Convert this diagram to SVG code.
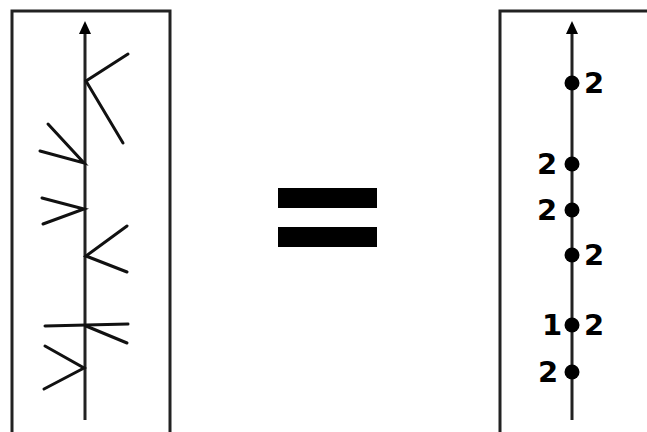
<svg xmlns="http://www.w3.org/2000/svg" width="647" height="432" viewBox="0 0 647 432">
<style>
.box{fill:none;stroke:#222;stroke-width:3}
.stem{stroke:#222;stroke-width:3;fill:none}
.br{stroke:#111;stroke-width:3;stroke-linecap:round;fill:none}
.lbl{font-family:"DejaVu Sans",Verdana,sans-serif;font-weight:bold;font-size:29px;fill:#000}
.dot{fill:#000}
</style>
<rect width="647" height="432" fill="#fff"/>
<g id="left-panel">
<rect class="box" x="12" y="11" width="158" height="440"/>
<line class="stem" x1="85" y1="420" x2="85" y2="33"/>
<path d="M79,34 L85,21 L91,34 Z" fill="#000"/>
<g id="left-branches">
<path class="br" d="M128,54 L86,81 L123,143"/>
<path class="br" d="M48,124 L84,163 L40,151"/>
<path class="br" d="M42,198 L84,209 L43,224"/>
<path class="br" d="M127,226 L86,256 L127,272"/>
<path class="br" d="M45,326 L128,324"/>
<path class="br" d="M86,326 L127,343"/>
<path class="br" d="M45,346 L84,368 L44,389"/>
</g>
</g>
<g id="equals">
<rect x="278" y="188" width="99" height="20" fill="#000"/>
<rect x="278" y="227" width="99" height="20" fill="#000"/>
</g>
<g id="right-panel">
<rect class="box" x="500" y="11" width="200" height="440"/>
<line class="stem" x1="572" y1="420" x2="572" y2="33"/>
<path d="M566,34 L572,21 L578,34 Z" fill="#000"/>
<circle class="dot" cx="572" cy="83" r="7.5"/>
<circle class="dot" cx="572" cy="164" r="7.5"/>
<circle class="dot" cx="572" cy="210" r="7.5"/>
<circle class="dot" cx="572" cy="255" r="7.5"/>
<circle class="dot" cx="572" cy="325" r="7.5"/>
<circle class="dot" cx="572" cy="372" r="7.5"/>
<text class="lbl" x="584" y="93">2</text>
<text class="lbl" x="537" y="174">2</text>
<text class="lbl" x="537" y="220">2</text>
<text class="lbl" x="584" y="265">2</text>
<text class="lbl" x="542" y="335">1</text>
<text class="lbl" x="584" y="335">2</text>
<text class="lbl" x="538" y="382">2</text>
</g>
</svg>
